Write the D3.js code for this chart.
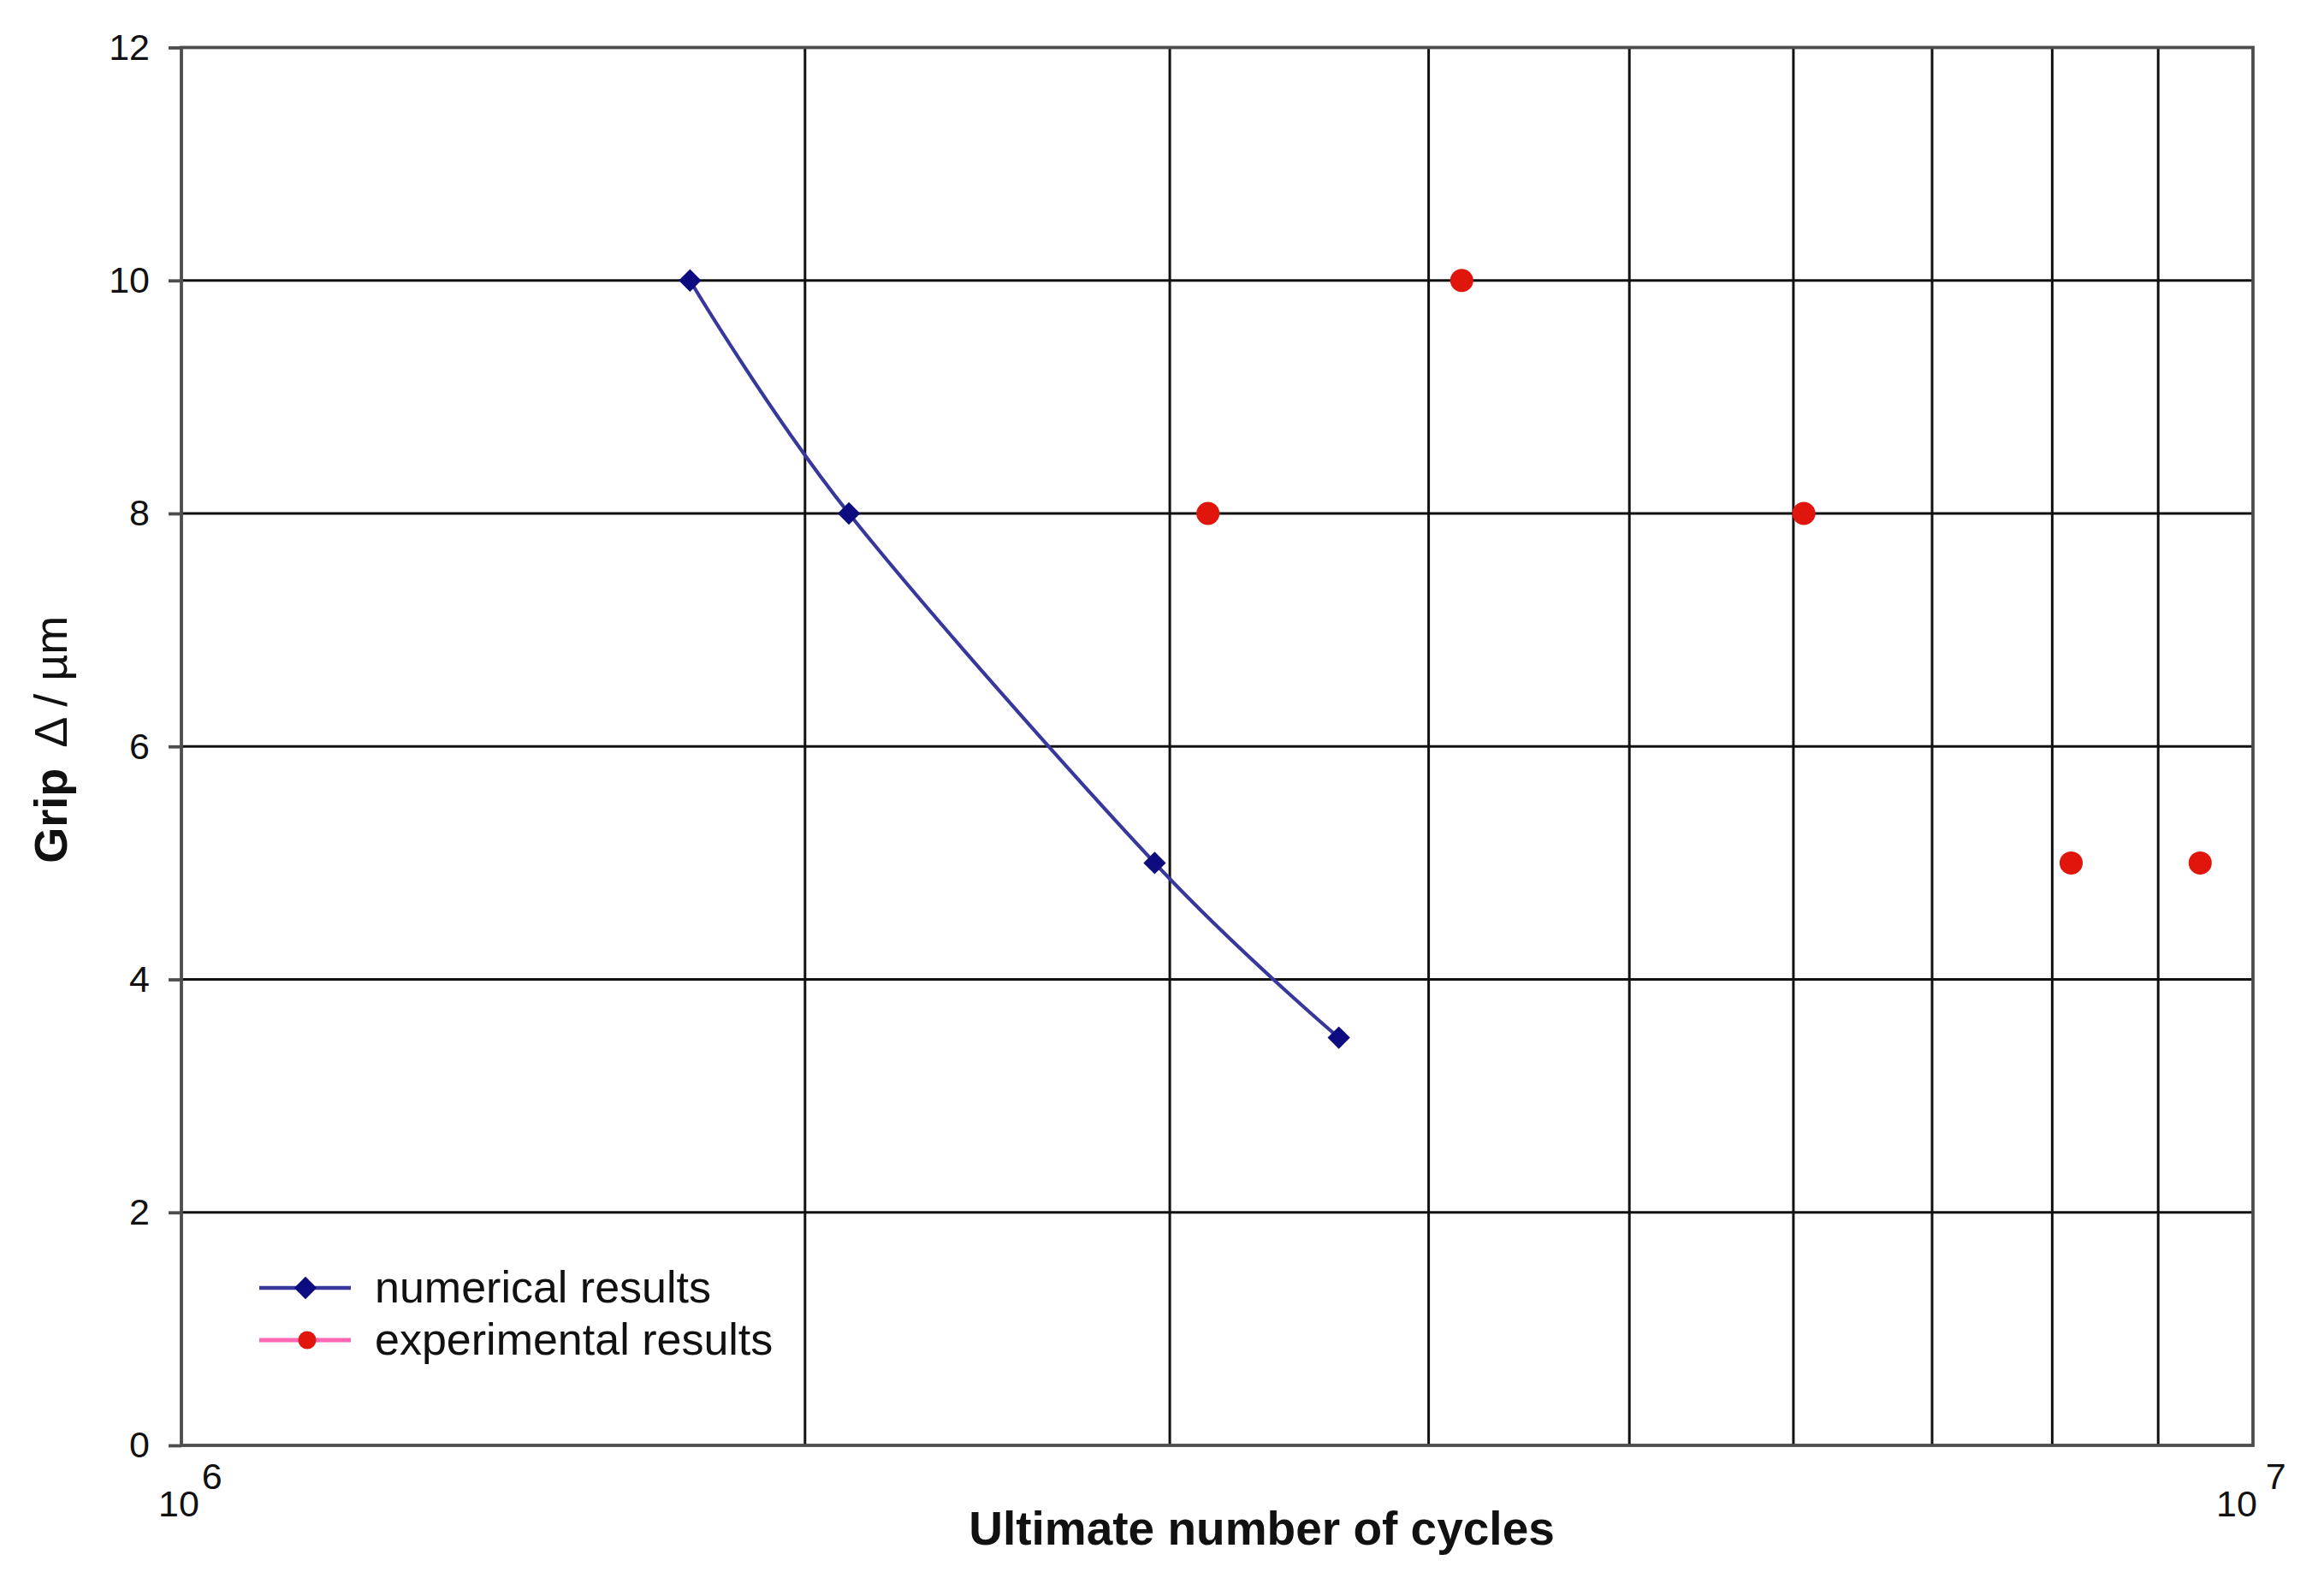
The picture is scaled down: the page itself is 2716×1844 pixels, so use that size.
<!DOCTYPE html>
<html>
<head>
<meta charset="utf-8">
<script src="https://cdn.jsdelivr.net/npm/d3@7"></script>
<style>
  html, body { margin: 0; padding: 0; background: #ffffff; }
  svg { display: block; }
  text { font-family: "Liberation Sans", Arial, Helvetica, sans-serif; fill: #111; }
</style>
</head>
<body>
<svg id="chart" width="2716" height="1844"></svg>
<script>
// ---------------- data ----------------
const numericalCycles = [1.76e6, 2.10e6, 2.95e6, 3.62e6];
const numericalGrip   = [10, 8, 5, 3.5];

const experimentalCycles = [3.13e6, 4.15e6, 6.07e6, 8.17e6, 9.43e6];
const experimentalGrip   = [8, 10, 8, 5, 5];

const yTickValues = [0, 2, 4, 6, 8, 10, 12];
const xLabelValues = [1e6, 1e7];
const xLabelBase = ["10", "10"];
const xLabelExp  = ["6", "7"];

const seriesNames = ["numerical results", "experimental results"];
const xTitle = "Ultimate number of cycles";
const yTitleBold = "Grip";
const yTitleRest = "Δ / µm";

// ---------------- layout ----------------
const W = 2716, H = 1844;
const margin = { left: 212, right: 83, top: 55.5, bottom: 155 };
const pw = W - margin.left - margin.right;
const ph = H - margin.top - margin.bottom;

const svg = d3.select("#chart");
const g = svg.append("g").attr("transform", `translate(${margin.left},${margin.top})`);

const x = d3.scaleLog().domain([1e6, 1e7]).range([0, pw]);
const y = d3.scaleLinear().domain([0, 12]).range([ph, 0]);

const gridColor = "#111111";
const frameColor = "#4d4d4d";

// vertical gridlines (2e6 .. 9e6)
const xGrid = x.ticks().filter(v => v > 1e6 && v < 1e7);
g.append("g").selectAll("line").data(xGrid).join("line")
  .attr("x1", d => x(d)).attr("x2", d => x(d))
  .attr("y1", 0).attr("y2", ph)
  .attr("stroke", gridColor).attr("stroke-width", 3);

// horizontal gridlines
const yGrid = yTickValues.filter(v => v > 0 && v < 12);
g.append("g").selectAll("line").data(yGrid).join("line")
  .attr("x1", 0).attr("x2", pw)
  .attr("y1", d => y(d)).attr("y2", d => y(d))
  .attr("stroke", gridColor).attr("stroke-width", 3);

// frame
g.append("rect").attr("x", 0).attr("y", 0).attr("width", pw).attr("height", ph)
  .attr("fill", "none").attr("stroke", frameColor).attr("stroke-width", 3.8);

// y axis
const yAxis = d3.axisLeft(y).tickValues(yTickValues).tickSize(15).tickPadding(22)
  .tickFormat(d3.format("d"));
const ya = g.append("g").call(yAxis);
ya.select(".domain").remove();
ya.selectAll(".tick line").attr("stroke", frameColor).attr("stroke-width", 3.8);
ya.selectAll(".tick text").attr("font-size", 43).attr("fill", "#1a1a1a")
  .attr("font-family", "Liberation Sans, Arial, sans-serif");

// x axis labels 10^6, 10^7
const xLabelShift = [-27, -43];
const xLabelSupGap = [3, 10];
xLabelValues.forEach((v, i) => {
  const t = g.append("text")
    .attr("x", x(v) + xLabelShift[i])
    .attr("y", ph + 83)
    .attr("font-size", 43).attr("fill", "#1a1a1a");
  t.append("tspan").text(xLabelBase[i]);
  t.append("tspan").attr("dx", xLabelSupGap[i]).attr("dy", -32).text(xLabelExp[i]);
});

// axis titles
svg.append("text")
  .attr("x", margin.left + pw / 2 + 52)
  .attr("y", 1805)
  .attr("text-anchor", "middle")
  .attr("font-size", 55).attr("font-weight", "bold").attr("fill", "#000")
  .text(xTitle);

const yt = svg.append("text")
  .attr("transform", `translate(78,${margin.top + ph / 2 - 8}) rotate(-90)`)
  .attr("text-anchor", "middle")
  .attr("font-size", 54).attr("fill", "#000");
yt.append("tspan").attr("font-weight", "bold").text(yTitleBold);
yt.append("tspan").attr("font-weight", "normal").attr("dx", 24).text(yTitleRest);

// ---------------- series ----------------
const numData = numericalCycles.map((c, i) => ({ c, v: numericalGrip[i] }));
const expData = experimentalCycles.map((c, i) => ({ c, v: experimentalGrip[i] }));

const lineColor = "#38389c";
const diamondColor = "#0c0c80";
const redColor = "#e0150c";
const pinkColor = "#ff66b3";

const line = d3.line().x(d => x(d.c)).y(d => y(d.v)).curve(d3.curveCardinal.tension(0));
g.append("path").datum(numData).attr("d", line)
  .attr("fill", "none").attr("stroke", lineColor).attr("stroke-width", 4.2);

const diamond = d3.symbol().type(d3.symbolDiamond2).size(440);
g.append("g").selectAll("path").data(numData).join("path")
  .attr("transform", d => `translate(${x(d.c)},${y(d.v)})`)
  .attr("d", diamond)
  .attr("fill", diamondColor);

g.append("g").selectAll("circle").data(expData).join("circle")
  .attr("cx", d => x(d.c)).attr("cy", d => y(d.v)).attr("r", 13.5)
  .attr("fill", redColor);

// ---------------- legend ----------------
const lg = svg.append("g").attr("transform", "translate(303,1505)");
// numerical
lg.append("line").attr("x1", 0).attr("x2", 107).attr("y1", 0).attr("y2", 0)
  .attr("stroke", lineColor).attr("stroke-width", 4.5);
lg.append("path").attr("transform", "translate(54,0)").attr("d", d3.symbol().type(d3.symbolDiamond2).size(440)())
  .attr("fill", diamondColor);
lg.append("text").attr("x", 135).attr("y", 17).attr("font-size", 52).attr("fill", "#111")
  .text(seriesNames[0]);
// experimental
lg.append("line").attr("x1", 0).attr("x2", 107).attr("y1", 61).attr("y2", 61)
  .attr("stroke", pinkColor).attr("stroke-width", 5);
lg.append("circle").attr("cx", 56).attr("cy", 61).attr("r", 10.5).attr("fill", redColor);
lg.append("text").attr("x", 135).attr("y", 78).attr("font-size", 52).attr("fill", "#111")
  .text(seriesNames[1]);
</script>
</body>
</html>
